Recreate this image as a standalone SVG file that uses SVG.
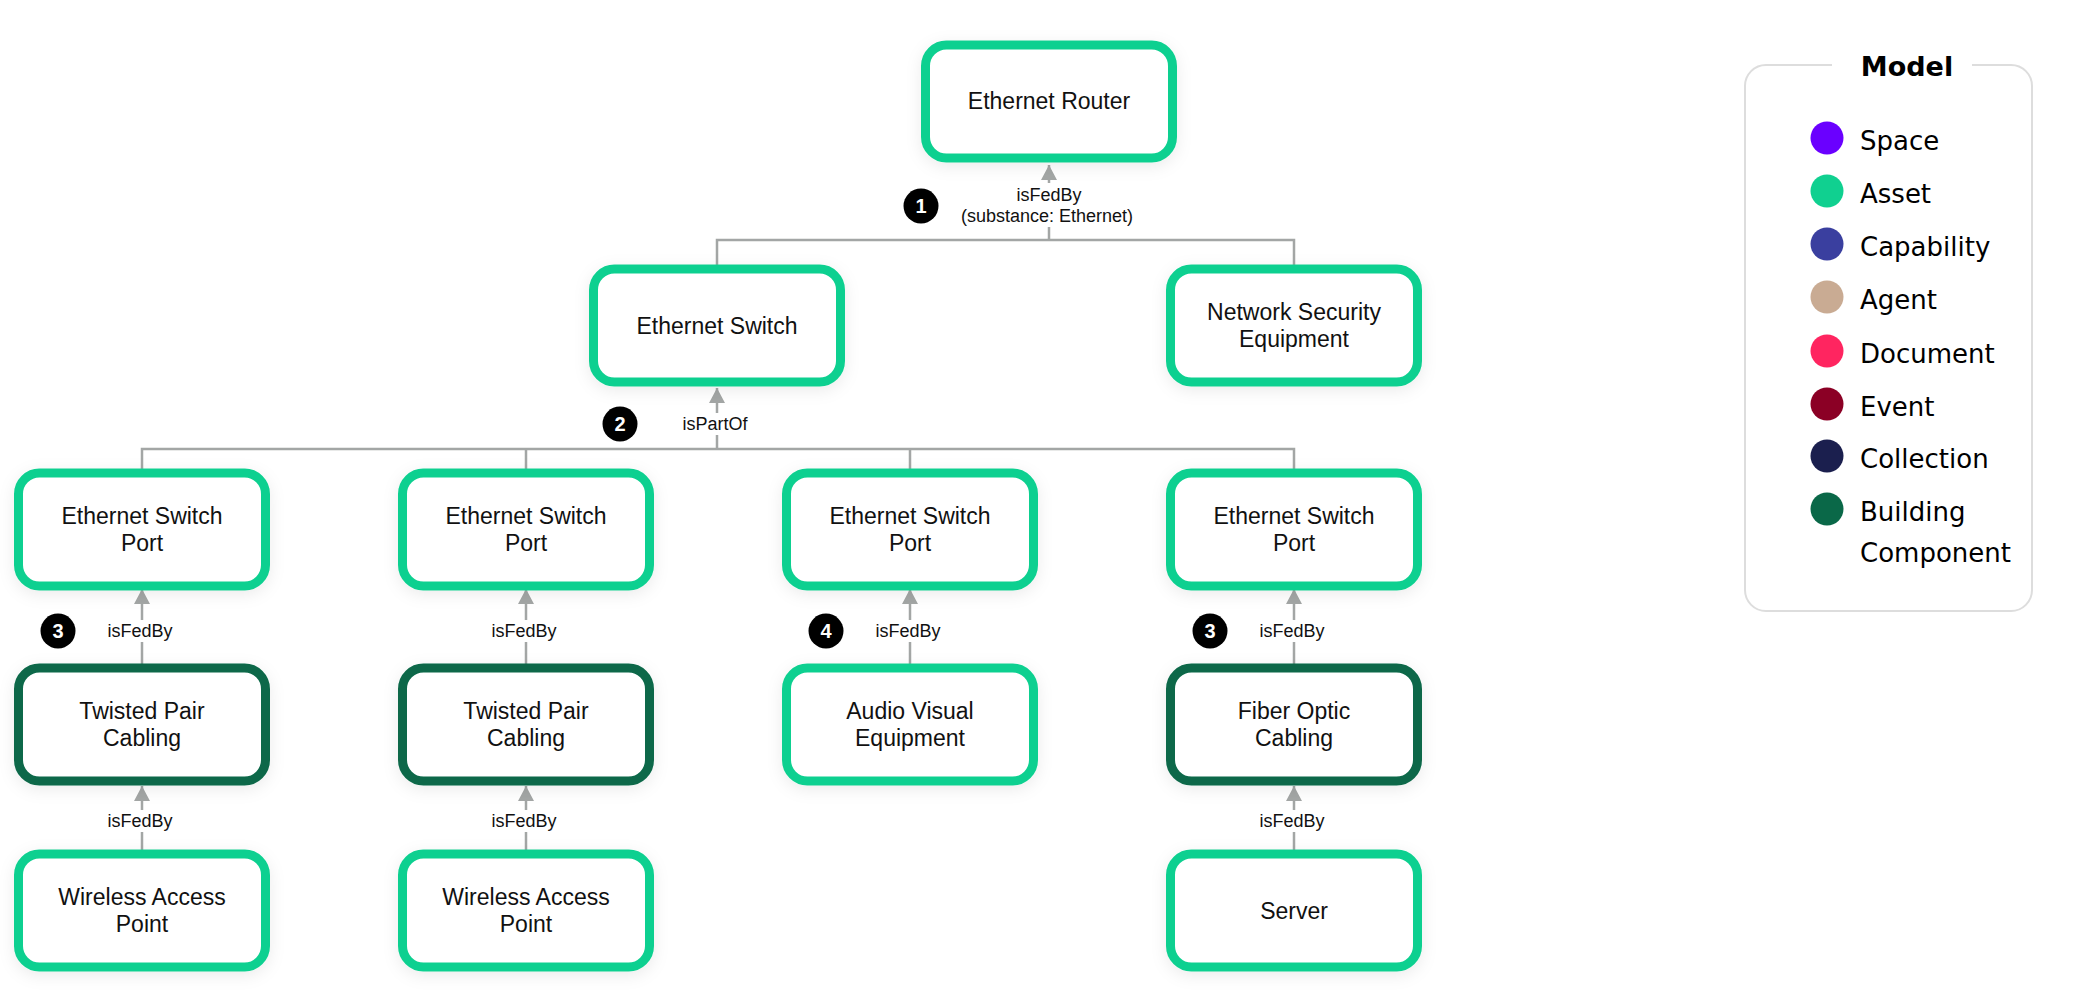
<svg xmlns="http://www.w3.org/2000/svg" width="2082" height="992" viewBox="0 0 2082 992">
<defs>
<style>
.node{fill:#fff;stroke-width:9;}
.asset{stroke:#10D090;}
.bc{stroke:#0A6848;}
.nt{font-family:"Liberation Sans",Arial,sans-serif;font-size:23px;fill:#111;text-anchor:middle;}
.lbl{font-family:"Liberation Sans",Arial,sans-serif;font-size:18px;fill:#111;text-anchor:middle;}
.lbg{fill:#fff;}
.con{fill:none;stroke:#A3A6A5;stroke-width:2.5;}
.badge{fill:#000;}
.bt{font-family:"Liberation Sans",Arial,sans-serif;font-size:20px;font-weight:bold;fill:#fff;text-anchor:middle;}
.lg{font-family:"DejaVu Sans",sans-serif;font-size:26px;fill:#000;}
.lgt{font-family:"DejaVu Sans",sans-serif;font-size:27px;font-weight:bold;fill:#000;text-anchor:middle;}
</style>
<filter id="sh" x="-20%" y="-20%" width="140%" height="150%">
<feDropShadow dx="0" dy="4" stdDeviation="8" flood-color="#000" flood-opacity="0.08"/>
</filter>
<marker id="arr" markerUnits="userSpaceOnUse" markerWidth="16" markerHeight="16" viewBox="0 0 16 16" refX="15" refY="8" orient="auto">
<path d="M0,0 L15,8 L0,16 Z" fill="#A3A6A5"/>
</marker>
</defs>
<rect x="0" y="0" width="2082" height="992" fill="#fff"/>

<g id="connectors">
<path class="con" d="M717,266 V240 H1294 V266"/>
<path class="con" d="M1049,240 V165" marker-end="url(#arr)"/>
<path class="con" d="M142,470 V449 H1294 V470 M526,449 V470 M910,449 V470"/>
<path class="con" d="M717,449 V388" marker-end="url(#arr)"/>
<path class="con" d="M142,665 V589" marker-end="url(#arr)"/>
<path class="con" d="M526,665 V589" marker-end="url(#arr)"/>
<path class="con" d="M910,665 V589" marker-end="url(#arr)"/>
<path class="con" d="M1294,665 V589" marker-end="url(#arr)"/>
<path class="con" d="M142,851 V786" marker-end="url(#arr)"/>
<path class="con" d="M526,851 V786" marker-end="url(#arr)"/>
<path class="con" d="M1294,851 V786" marker-end="url(#arr)"/>

<rect class="lbg" x="958" y="183" width="182" height="44"/>
<text class="lbl" x="1049" y="201">isFedBy</text>
<text class="lbl" x="1047" y="222">(substance: Ethernet)</text>
<rect class="lbg" x="679" y="413" width="72" height="22"/>
<text class="lbl" x="715" y="430">isPartOf</text>
<rect class="lbg" x="106" y="620" width="72" height="22"/>
<text class="lbl" x="140" y="637">isFedBy</text>
<rect class="lbg" x="490" y="620" width="72" height="22"/>
<text class="lbl" x="524" y="637">isFedBy</text>
<rect class="lbg" x="874" y="620" width="72" height="22"/>
<text class="lbl" x="908" y="637">isFedBy</text>
<rect class="lbg" x="1258" y="620" width="72" height="22"/>
<text class="lbl" x="1292" y="637">isFedBy</text>
<rect class="lbg" x="106" y="810" width="72" height="22"/>
<text class="lbl" x="140" y="827">isFedBy</text>
<rect class="lbg" x="490" y="810" width="72" height="22"/>
<text class="lbl" x="524" y="827">isFedBy</text>
<rect class="lbg" x="1258" y="810" width="72" height="22"/>
<text class="lbl" x="1292" y="827">isFedBy</text>
</g>

<g id="badges">
<circle class="badge" cx="921" cy="206" r="17.5"/><text class="bt" x="921" y="213">1</text>
<circle class="badge" cx="620" cy="424" r="17.5"/><text class="bt" x="620" y="431">2</text>
<circle class="badge" cx="58" cy="631" r="17.5"/><text class="bt" x="58" y="638">3</text>
<circle class="badge" cx="826" cy="631" r="17.5"/><text class="bt" x="826" y="638">4</text>
<circle class="badge" cx="1210" cy="631" r="17.5"/><text class="bt" x="1210" y="638">3</text>
</g>

<g id="router"><rect class="node asset" filter="url(#sh)" x="925.5" y="45" width="247" height="113" rx="21"/><text class="nt" x="1049" y="109">Ethernet Router</text></g>
<g id="switch"><rect class="node asset" filter="url(#sh)" x="593.5" y="269" width="247" height="113" rx="21"/><text class="nt" x="717" y="334">Ethernet Switch</text></g>
<g id="nse"><rect class="node asset" filter="url(#sh)" x="1170.5" y="269" width="247" height="113" rx="21"/><text class="nt" x="1294" y="320">Network Security</text><text class="nt" x="1294" y="347">Equipment</text></g>

<g id="port1"><rect class="node asset" filter="url(#sh)" x="18.5" y="473" width="247" height="113" rx="21"/><text class="nt" x="142" y="524">Ethernet Switch</text><text class="nt" x="142" y="551">Port</text></g>
<g id="port2"><rect class="node asset" filter="url(#sh)" x="402.5" y="473" width="247" height="113" rx="21"/><text class="nt" x="526" y="524">Ethernet Switch</text><text class="nt" x="526" y="551">Port</text></g>
<g id="port3"><rect class="node asset" filter="url(#sh)" x="786.5" y="473" width="247" height="113" rx="21"/><text class="nt" x="910" y="524">Ethernet Switch</text><text class="nt" x="910" y="551">Port</text></g>
<g id="port4"><rect class="node asset" filter="url(#sh)" x="1170.5" y="473" width="247" height="113" rx="21"/><text class="nt" x="1294" y="524">Ethernet Switch</text><text class="nt" x="1294" y="551">Port</text></g>

<g id="tp1"><rect class="node bc" filter="url(#sh)" x="18.5" y="668" width="247" height="113" rx="21"/><text class="nt" x="142" y="719">Twisted Pair</text><text class="nt" x="142" y="746">Cabling</text></g>
<g id="tp2"><rect class="node bc" filter="url(#sh)" x="402.5" y="668" width="247" height="113" rx="21"/><text class="nt" x="526" y="719">Twisted Pair</text><text class="nt" x="526" y="746">Cabling</text></g>
<g id="av"><rect class="node asset" filter="url(#sh)" x="786.5" y="668" width="247" height="113" rx="21"/><text class="nt" x="910" y="719">Audio Visual</text><text class="nt" x="910" y="746">Equipment</text></g>
<g id="fiber"><rect class="node bc" filter="url(#sh)" x="1170.5" y="668" width="247" height="113" rx="21"/><text class="nt" x="1294" y="719">Fiber Optic</text><text class="nt" x="1294" y="746">Cabling</text></g>

<g id="wap1"><rect class="node asset" filter="url(#sh)" x="18.5" y="854" width="247" height="113" rx="21"/><text class="nt" x="142" y="905">Wireless Access</text><text class="nt" x="142" y="932">Point</text></g>
<g id="wap2"><rect class="node asset" filter="url(#sh)" x="402.5" y="854" width="247" height="113" rx="21"/><text class="nt" x="526" y="905">Wireless Access</text><text class="nt" x="526" y="932">Point</text></g>
<g id="server"><rect class="node asset" filter="url(#sh)" x="1170.5" y="854" width="247" height="113" rx="21"/><text class="nt" x="1294" y="919">Server</text></g>

<g id="legend">
<path d="M1972,65 H2011 A21,21 0 0 1 2032,86 V590 A21,21 0 0 1 2011,611 H1766 A21,21 0 0 1 1745,590 V86 A21,21 0 0 1 1766,65 H1832" fill="none" stroke="#DDDDDD" stroke-width="2"/>
<text class="lgt" x="1907" y="76">Model</text>
<circle cx="1827" cy="138" r="16.5" fill="#6A00FF"/><text class="lg" x="1860" y="150">Space</text>
<circle cx="1827" cy="191" r="16.5" fill="#10D090"/><text class="lg" x="1860" y="203">Asset</text>
<circle cx="1827" cy="244" r="16.5" fill="#3A3F9F"/><text class="lg" x="1860" y="256">Capability</text>
<circle cx="1827" cy="297" r="16.5" fill="#C9AB93"/><text class="lg" x="1860" y="309">Agent</text>
<circle cx="1827" cy="351" r="16.5" fill="#FF2560"/><text class="lg" x="1860" y="363">Document</text>
<circle cx="1827" cy="404" r="16.5" fill="#8B0025"/><text class="lg" x="1860" y="416">Event</text>
<circle cx="1827" cy="456" r="16.5" fill="#1B1F4E"/><text class="lg" x="1860" y="468">Collection</text>
<circle cx="1827" cy="509" r="16.5" fill="#0A6848"/><text class="lg" x="1860" y="521">Building</text>
<text class="lg" x="1860" y="562">Component</text>
</g>
</svg>
